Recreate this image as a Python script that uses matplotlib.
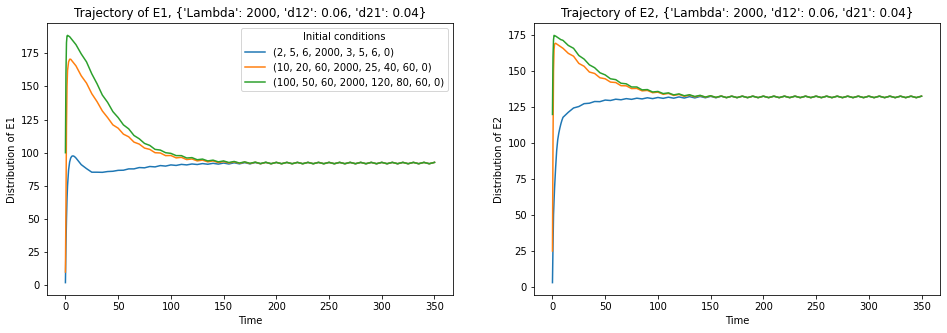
# -*- coding: utf-8 -*-
import matplotlib
matplotlib.use("Agg")
import matplotlib.pyplot as plt

# 時間軸
time = [0, 0.5, 1, 1.5, 2, 3, 4, 5, 6, 7, 8, 9, 10] + list(range(15, 355, 5))

labels = ["(2, 5, 6, 2000, 3, 5, 6, 0)",
          "(10, 20, 60, 2000, 25, 40, 60, 0)",
          "(100, 50, 60, 2000, 120, 80, 60, 0)"]

title_e1 = "Trajectory of E1, {'Lambda': 2000, 'd12': 0.06, 'd21': 0.04}"
title_e2 = "Trajectory of E2, {'Lambda': 2000, 'd12': 0.06, 'd21': 0.04}"

# E1 --------------------------------------------------------------------------
e1_a = [2, 30, 50, 65, 75, 87, 93, 96, 97.3, 97.6, 97.4, 96.8, 96,
        91, 88, 85.3, 85.3, 85.2, 85.8, 86, 86.7, 86.8, 87.8,
        87.8, 88.8, 88.6, 89.6, 89.3, 90.3, 89.9, 90.8, 90.4, 91.2,
        90.8, 91.5, 91.1, 91.8, 91.3, 92, 91.4, 92.2, 91.5, 92.4,
        91.6, 92.5, 91.6, 92.6, 91.7, 92.7, 91.7,
        92.7, 91.7, 92.7, 91.7, 92.7, 91.7, 92.7, 91.7, 92.7, 91.7,
        92.7, 91.7, 92.7, 91.7, 92.7, 91.7, 92.7, 91.7, 92.7, 91.7,
        92.7, 91.7, 92.7, 91.7, 92.7, 91.7, 92.7, 91.7, 92.7, 91.7, 92.7]

e1_b = [10, 60, 120, 150, 162, 168.5, 170.5, 170.5, 169.5, 168.5, 167.5, 166.5, 165.5,
        158, 152.5, 144.5, 138.5, 131.5, 126.5, 121, 118.5, 114, 112,
        108, 106.5, 103.5, 102.5, 100, 99.8, 97.8, 97.9, 96.1, 96.5,
        94.8, 95.3, 93.8, 94.4, 93.1, 93.8, 92.5, 93.3, 92.2, 93.1,
        92.0, 92.9, 91.8, 92.8, 91.7, 92.7, 91.7,
        92.7, 91.7, 92.7, 91.7, 92.7, 91.7, 92.7, 91.7, 92.7, 91.7,
        92.7, 91.7, 92.7, 91.7, 92.7, 91.7, 92.7, 91.7, 92.7, 91.7,
        92.7, 91.7, 92.7, 91.7, 92.7, 91.7, 92.7, 91.7, 92.7, 91.7, 92.7]

e1_c = [100, 160, 183, 188, 188.5, 188, 187.5, 186.5, 185.5, 184.5, 183.5, 182.5, 181.5,
        174.5, 168.5, 159.5, 152, 143.5, 138, 131, 126.5, 121, 118,
        113, 110.5, 107, 105.5, 102.5, 102, 100, 99.5, 97.8, 97.8,
        96, 96.3, 94.7, 95.2, 93.8, 94.4, 93.1, 93.8, 92.6, 93.4,
        92.2, 93.1, 92.0, 92.9, 91.8, 92.8, 91.7,
        92.7, 91.7, 92.7, 91.7, 92.7, 91.7, 92.7, 91.7, 92.7, 91.7,
        92.7, 91.7, 92.7, 91.7, 92.7, 91.7, 92.7, 91.7, 92.7, 91.7,
        92.7, 91.7, 92.7, 91.7, 92.7, 91.7, 92.7, 91.7, 92.7, 91.7, 92.7]

# E2 --------------------------------------------------------------------------
e2_a = [3, 28, 50, 60, 69, 83, 95, 102.5, 107, 110.5, 113.5, 116, 118,
        121.5, 124.5, 125.5, 127.5, 127.8, 129, 128.9, 130, 129.7, 130.6,
        130.2, 131, 130.5, 131.3, 130.8, 131.6, 131, 131.8, 131.2, 132,
        131.3, 132.2, 131.4, 132.4, 131.5, 132.5, 131.6, 132.6, 131.6, 132.7,
        131.7, 132.7, 131.7, 132.7, 131.7, 132.7, 131.7,
        132.7, 131.7, 132.7, 131.7, 132.7, 131.7, 132.7, 131.7, 132.7, 131.7,
        132.7, 131.7, 132.7, 131.7, 132.7, 131.7, 132.7, 131.7, 132.7, 131.7,
        132.7, 131.7, 132.7, 131.7, 132.7, 131.7, 132.7, 131.7, 132.7, 131.7, 132.7]

e2_b = [25, 100, 150, 165, 169, 169.5, 169, 168.5, 168, 167.5, 167, 166.5, 166,
        162.5, 160.5, 155.5, 153.5, 149.5, 148.5, 145.5, 144.8, 142.5, 142.2,
        140, 139.9, 138, 138.1, 136.4, 136.7, 135.1, 135.5, 134, 134.6,
        133.2, 133.9, 132.6, 133.4, 132.2, 133.1, 132, 132.9, 131.8, 132.8,
        131.7, 132.7, 131.7, 132.7, 131.7, 132.7, 131.7,
        132.7, 131.7, 132.7, 131.7, 132.7, 131.7, 132.7, 131.7, 132.7, 131.7,
        132.7, 131.7, 132.7, 131.7, 132.7, 131.7, 132.7, 131.7, 132.7, 131.7,
        132.7, 131.7, 132.7, 131.7, 132.7, 131.7, 132.7, 131.7, 132.7, 131.7, 132.7]

e2_c = [120, 160, 172, 175, 174.8, 174.5, 174, 173.5, 173, 172.5, 172, 171.8, 171.5,
        168, 166, 161, 158.5, 154.5, 152.5, 149, 147.5, 144.8, 144.2,
        141.7, 141.3, 139.1, 139.1, 137.1, 137.3, 135.6, 136, 134.5, 135,
        133.6, 134.3, 133, 133.7, 132.5, 133.3, 132.1, 133, 131.9, 132.8,
        131.7, 132.7, 131.7, 132.7, 131.7, 132.7, 131.7,
        132.7, 131.7, 132.7, 131.7, 132.7, 131.7, 132.7, 131.7, 132.7, 131.7,
        132.7, 131.7, 132.7, 131.7, 132.7, 131.7, 132.7, 131.7, 132.7, 131.7,
        132.7, 131.7, 132.7, 131.7, 132.7, 131.7, 132.7, 131.7, 132.7, 131.7, 132.7]


def main():
    fig = plt.figure(figsize=(947 / 72, 333 / 72), dpi=72)
    ax1 = fig.add_axes([0.0496, 0.1141, 0.4287, 0.8168])
    ax2 = fig.add_axes([0.5639, 0.1141, 0.4287, 0.8168])

    # E1
    for series, lab in zip([e1_a, e1_b, e1_c], labels):
        ax1.plot(time, series, label=lab)
    ax1.set_title(title_e1)
    ax1.set_xlabel('Time')
    ax1.set_ylabel('Distribution of E1')
    ax1.legend(title='Initial conditions', loc='upper right')

    # E2
    for series, lab in zip([e2_a, e2_b, e2_c], labels):
        ax2.plot(time, series, label=lab)
    ax2.set_title(title_e2)
    ax2.set_xlabel('Time')
    ax2.set_ylabel('Distribution of E2')

    fig.savefig('out.png', dpi=72)


if __name__ == "__main__":
    main()
